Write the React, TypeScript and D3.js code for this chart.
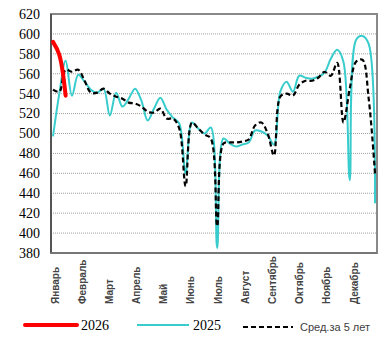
import React from "react";
import * as d3 from "d3";

const months = ["Январь", "Февраль", "Март", "Апрель", "Май", "Июнь", "Июль", "Август", "Сентябрь", "Октябрь", "Ноябрь", "Декабрь"];
const yTicks = [380, 400, 420, 440, 460, 480, 500, 520, 540, 560, 580, 600, 620];

const series2026 = [592, 579, 538];
const series2025 = [497, 540, 573, 538, 559, 552, 544, 541, 545, 518, 541, 527, 535, 545, 533, 513, 525, 536, 524, 516, 510, 460, 511, 505, 500, 506, 385, 495, 490, 487, 489, 491, 503, 502, 498, 489, 542, 552, 542, 558, 556, 555, 557, 561, 575, 584, 572, 453, 594, 598, 590, 430];
const avg5 = [544, 542, 564, 562, 564, 553, 541, 541, 545, 540, 537, 535, 531, 530, 527, 522, 521, 525, 515, 515, 505, 447, 511, 505, 499, 495, 407, 490, 491, 491, 492, 494, 508, 511, 500, 478, 537, 540, 538, 549, 553, 553, 556, 562, 558, 571, 511, 545, 572, 574, 535, 460];

const legendLabels = ["2026", "2025", "Сред.за 5 лет"];

export default function App() {
  const left = 51, right = 377, top = 14, bottom = 253;
  const x = d3.scaleLinear().domain([0, 51]).range([53, 375]);
  const y = d3.scaleLinear().domain([380, 620]).range([bottom, top]);
  const mx = d3.scalePoint<string>().domain(months).range([55, 354]);

  const line = d3
    .line<number>()
    .x((_, i) => x(i))
    .y((d) => y(d))
    .curve(d3.curveCatmullRom.alpha(0.5));

  const sans = "'Liberation Sans', Arial, sans-serif";
  const serif = "'Liberation Serif', 'Times New Roman', serif";

  return (
    <svg width={391} height={357} style={{ position: "absolute", left: 0, top: 0 }}>
      <rect x={0} y={0} width={391} height={357} fill="#fff" />
      {yTicks
        .filter((t) => t > 380 && t < 620)
        .map((t) => (
          <line key={t} x1={left} x2={right} y1={y(t)} y2={y(t)} stroke="#a0a0a0" strokeWidth={1} strokeDasharray="1,1" />
        ))}
      <rect x={left} y={top} width={right - left} height={bottom - top} fill="none" stroke="#888" strokeWidth={2} />
      <line x1={left} x2={left} y1={top} y2={bottom} stroke="#555" strokeWidth={2} />
      <line x1={left} x2={right} y1={bottom} y2={bottom} stroke="#777" strokeWidth={2} />

      {yTicks.map((t) => (
        <text key={t} x={40} y={y(t)} dy="0.35em" textAnchor="end" fontFamily={serif} fontSize={14} fill="#000">
          {t}
        </text>
      ))}

      {months.map((m) => (
        <text
          key={m}
          transform={`translate(${mx(m)},304) rotate(-90)`}
          dy="0.35em"
          textAnchor="start"
          fontFamily={sans}
          fontSize={10}
          fontWeight="bold"
          fill="#444"
        >
          {m}
        </text>
      ))}

      <path d={line(series2025) || ""} fill="none" stroke="#38CCCC" strokeWidth={2} />
      <path d={line(avg5) || ""} fill="none" stroke="#000" strokeWidth={2.2} strokeDasharray="5,3" />
      <path d={line(series2026) || ""} fill="none" stroke="#FF0000" strokeWidth={4} strokeLinecap="round" />

      <line x1={25} x2={77} y1={325} y2={325} stroke="#FF0000" strokeWidth={4} strokeLinecap="round" />
      <text x={81} y={330} fontFamily={serif} fontSize={14} fill="#000">{legendLabels[0]}</text>
      <line x1={137} x2={189} y1={325} y2={325} stroke="#38CCCC" strokeWidth={2} />
      <text x={193} y={330} fontFamily={serif} fontSize={14} fill="#000">{legendLabels[1]}</text>
      <line x1={243} x2={293} y1={327} y2={327} stroke="#000" strokeWidth={2.2} strokeDasharray="5,3" />
      <text x={300} y={331} fontFamily={sans} fontSize={11} fill="#404040">{legendLabels[2]}</text>
    </svg>
  );
}
